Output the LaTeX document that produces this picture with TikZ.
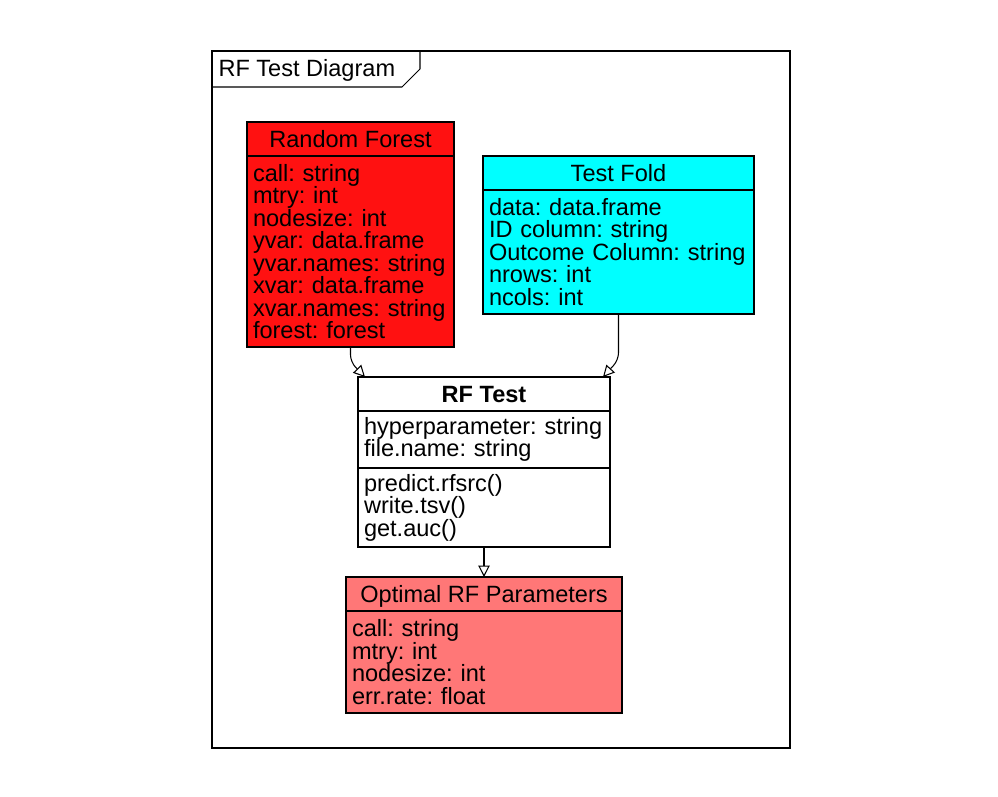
\documentclass[tikz,border=0pt]{standalone}
\usepackage{fontspec}
\setmainfont{Liberation Sans}
\usetikzlibrary{positioning,arrows.meta}
\definecolor{forestred}{RGB}{255,17,17}
\definecolor{foldcyan}{RGB}{0,255,255}
\definecolor{optsalmon}{RGB}{255,119,119}
\frenchspacing

\tikzset{
  classhead/.style={draw, outer sep=0pt, inner sep=0pt, minimum height=0.68cm, text height=9.6pt, text depth=0pt},
  classpart/.style={draw, outer sep=0pt, inner xsep=0.12cm, inner ysep=0pt, align=left},
  gen/.style={-{Triangle[open,length=6.5pt,width=6.5pt]}, rounded corners=4pt}
}

\begin{document}
\begin{tikzpicture}[line width=0.6pt, font=\fontsize{13.4}{12.8}\selectfont]
\useasboundingbox (0,0) rectangle (19.96,-15.94);
\draw (4.24,-1.02) rectangle (15.80,-14.96);
\draw (4.24,-1.02) -- (8.40,-1.02) -- (8.40,-1.38) -- (8.04,-1.74) -- (4.24,-1.74);
\node[anchor=base west, inner sep=0pt] (frame) at (4.36,-1.54) {RF Test Diagram};

\node[classhead, fill=forestred, minimum width=4.14cm] (rf) at (7.01,-2.78) {Random Forest};
\node[classpart, fill=forestred, text width=3.90cm, minimum height=3.82cm, below=0pt of rf] (rfattr)
  {call: string\\mtry: int\\nodesize: int\\yvar: data.frame\\yvar.names: string\\xvar: data.frame\\xvar.names: string\\forest: forest};

\node[classhead, fill=foldcyan, minimum width=5.42cm] (tf) at (12.37,-3.46) {Test Fold};
\node[classpart, fill=foldcyan, text width=5.18cm, minimum height=2.48cm, below=0pt of tf] (tfattr)
  {data: data.frame\\ID column: string\\Outcome Column: string\\nrows: int\\ncols: int};

\node[classhead, fill=white, minimum width=5.04cm, font=\fontsize{13.4}{12.8}\selectfont\bfseries] (rft) at (9.68,-7.88) {RF Test};
\node[classpart, fill=white, text width=4.80cm, minimum height=1.14cm, below=0pt of rft] (rftattr)
  {hyperparameter: string\\file.name: string};
\node[classpart, fill=white, text width=4.80cm, minimum height=1.58cm, below=0pt of rftattr] (rftmeth)
  {predict.rfsrc()\\write.tsv()\\get.auc()};

\node[classhead, fill=optsalmon, minimum width=5.52cm] (opt) at (9.68,-11.88) {Optimal RF Parameters};
\node[classpart, fill=optsalmon, text width=5.28cm, minimum height=2.04cm, below=0pt of opt] (optattr)
  {call: string\\mtry: int\\nodesize: int\\err.rate: float};

\draw[gen] (rfattr.south) -- ++(0,-0.30) -- ([xshift=0.14cm]rft.north west);
\draw[gen] (tfattr.south) -- ++(0,-0.92) -- ([xshift=-0.14cm]rft.north east);
\draw[gen] (rftmeth.south) -- (opt.north);
\end{tikzpicture}
\end{document}
